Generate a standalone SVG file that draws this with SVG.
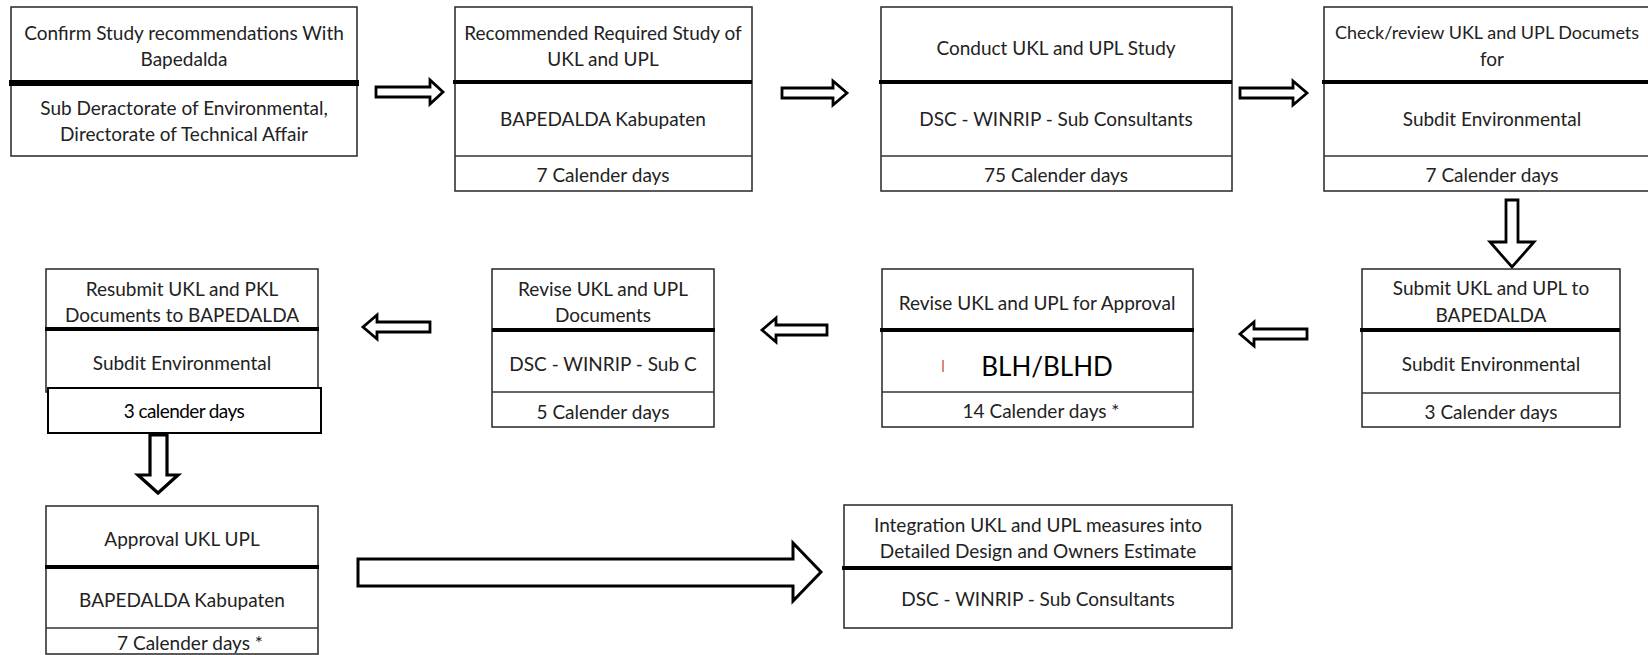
<svg xmlns="http://www.w3.org/2000/svg" width="1648" height="655" viewBox="0 0 1648 655">
<style>
.box{fill:#fff;stroke:#333;stroke-width:1.6}
.sep{stroke:#333;stroke-width:1.5}
.bar{stroke:#000;stroke-width:4}
.t{font-family:Lato,"Liberation Sans",sans-serif;font-size:19px;fill:#222;text-anchor:middle;dominant-baseline:central}
.arr{fill:#fff;stroke:#000;stroke-width:2.8;stroke-linejoin:miter}
</style>
<rect width="1648" height="655" fill="#fff"/>
<g id="connectors">
<path class="arr" d="M376,87 L430,87 L430,80 L443,92 L430,104 L430,97 L376,97 Z"/>
<path class="arr" d="M782,88 L833,88 L833,81 L847,93 L833,105 L833,98 L782,98 Z"/>
<path class="arr" d="M1240,88 L1293,88 L1293,81 L1307,93 L1293,105 L1293,98 L1240,98 Z"/>
<path class="arr" d="M1506,200 L1518,200 L1518,242 L1534,242 L1512,267 L1490,242 L1506,242 Z"/>
<path class="arr" d="M1307,329 L1254,329 L1254,322 L1240,334 L1254,346 L1254,339 L1307,339 Z"/>
<path class="arr" d="M827,325 L776,325 L776,318 L762,330 L776,342 L776,335 L827,335 Z"/>
<path class="arr" d="M430,322 L377,322 L377,315 L363,327 L377,339 L377,332 L430,332 Z"/>
<path class="arr" style="stroke-width:3.2" d="M150,435 L167,435 L167,475 L178,475 L158,493 L138,475 L150,475 Z"/>
<path class="arr" style="stroke-width:3" d="M358,559 L793,559 L793,543 L821,572 L793,601 L793,586 L358,586 Z"/>
</g>
<g id="n1">
<rect class="box" x="11" y="7" width="346" height="149"/>
<line class="bar" style="stroke-width:6" x1="9" y1="83" x2="359" y2="83"/>
<text class="t" x="184" y="32">Confirm Study recommendations With</text>
<text class="t" x="184" y="58">Bapedalda</text>
<text class="t" x="184" y="107">Sub Deractorate of Environmental,</text>
<text class="t" x="184" y="133">Directorate of Technical Affair</text>
</g>
<g id="n2">
<rect class="box" x="455" y="7" width="297" height="184"/>
<line class="bar" x1="453" y1="82" x2="752" y2="82"/>
<line class="sep" x1="455" y1="156" x2="752" y2="156"/>
<text class="t" x="603" y="32">Recommended Required Study of</text>
<text class="t" x="603" y="58">UKL and UPL</text>
<text class="t" x="603" y="118">BAPEDALDA Kabupaten</text>
<text class="t" x="603" y="174">7 Calender days</text>
</g>
<g id="n3">
<rect class="box" x="881" y="7" width="351" height="184"/>
<line class="bar" x1="879" y1="82" x2="1232" y2="82"/>
<line class="sep" x1="881" y1="156" x2="1232" y2="156"/>
<text class="t" x="1056" y="47">Conduct UKL and UPL Study</text>
<text class="t" x="1056" y="118">DSC - WINRIP - Sub Consultants</text>
<text class="t" x="1056" y="174">75 Calender days</text>
</g>
<g id="n4">
<rect class="box" x="1324" y="7" width="340" height="184"/>
<line class="bar" x1="1322" y1="82" x2="1664" y2="82"/>
<line class="sep" x1="1324" y1="156" x2="1664" y2="156"/>
<text class="t" x="1487" y="32" style="font-size:18px">Check/review UKL and UPL Documets</text>
<text class="t" x="1492" y="58">for</text>
<text class="t" x="1492" y="118">Subdit Environmental</text>
<text class="t" x="1492" y="174">7 Calender days</text>
</g>
<g id="n5">
<rect class="box" x="1362" y="269" width="258" height="158"/>
<line class="bar" x1="1360" y1="330" x2="1620" y2="330"/>
<line class="sep" x1="1362" y1="393" x2="1620" y2="393"/>
<text class="t" x="1491" y="287">Submit UKL and UPL to</text>
<text class="t" x="1491" y="314">BAPEDALDA</text>
<text class="t" x="1491" y="363">Subdit Environmental</text>
<text class="t" x="1491" y="411">3 Calender days</text>
</g>
<g id="n6">
<rect class="box" x="882" y="269" width="311" height="158"/>
<line class="bar" x1="880" y1="330" x2="1194" y2="330"/>
<line class="sep" x1="882" y1="392" x2="1193" y2="392"/>
<text class="t" x="1037" y="302">Revise UKL and UPL for Approval</text>
<line x1="943" y1="360" x2="943" y2="372" stroke="#c0392b" stroke-width="1.2"/>
<text class="t" x="1047" y="366" style="font-size:26px;fill:#000">BLH/BLHD</text>
<text class="t" x="1041" y="410">14 Calender days *</text>
</g>
<g id="n7">
<rect class="box" x="492" y="269" width="222" height="158"/>
<line class="bar" x1="492" y1="330" x2="715" y2="330"/>
<line class="sep" x1="492" y1="392" x2="714" y2="392"/>
<text class="t" x="603" y="288">Revise UKL and UPL</text>
<text class="t" x="603" y="314">Documents</text>
<text class="t" x="603" y="363">DSC - WINRIP - Sub C</text>
<text class="t" x="603" y="411">5 Calender days</text>
</g>
<g id="n8">
<rect class="box" x="46" y="269" width="272" height="123"/>
<line class="bar" x1="45" y1="329" x2="319" y2="329"/>
<text class="t" x="182" y="288">Resubmit UKL and PKL</text>
<text class="t" x="182" y="314">Documents to BAPEDALDA</text>
<text class="t" x="182" y="362">Subdit Environmental</text>
<rect x="48" y="388" width="273" height="45" fill="#fff" stroke="#000" stroke-width="2"/>
<text class="t" x="184" y="410" style="fill:#000;letter-spacing:-0.6px">3 calender days</text>
</g>
<g id="n9">
<rect class="box" x="46" y="506" width="272" height="148"/>
<line class="bar" x1="45" y1="567" x2="319" y2="567"/>
<line class="sep" x1="46" y1="628" x2="318" y2="628"/>
<text class="t" x="182" y="538">Approval UKL UPL</text>
<text class="t" x="182" y="599">BAPEDALDA Kabupaten</text>
<text class="t" x="190" y="642">7 Calender days *</text>
</g>
<g id="n10">
<rect class="box" x="844" y="505" width="388" height="123"/>
<line class="bar" x1="842" y1="568" x2="1232" y2="568"/>
<text class="t" x="1038" y="524">Integration UKL and UPL measures into</text>
<text class="t" x="1038" y="550">Detailed Design and Owners Estimate</text>
<text class="t" x="1038" y="598">DSC - WINRIP - Sub Consultants</text>
</g>
</svg>
